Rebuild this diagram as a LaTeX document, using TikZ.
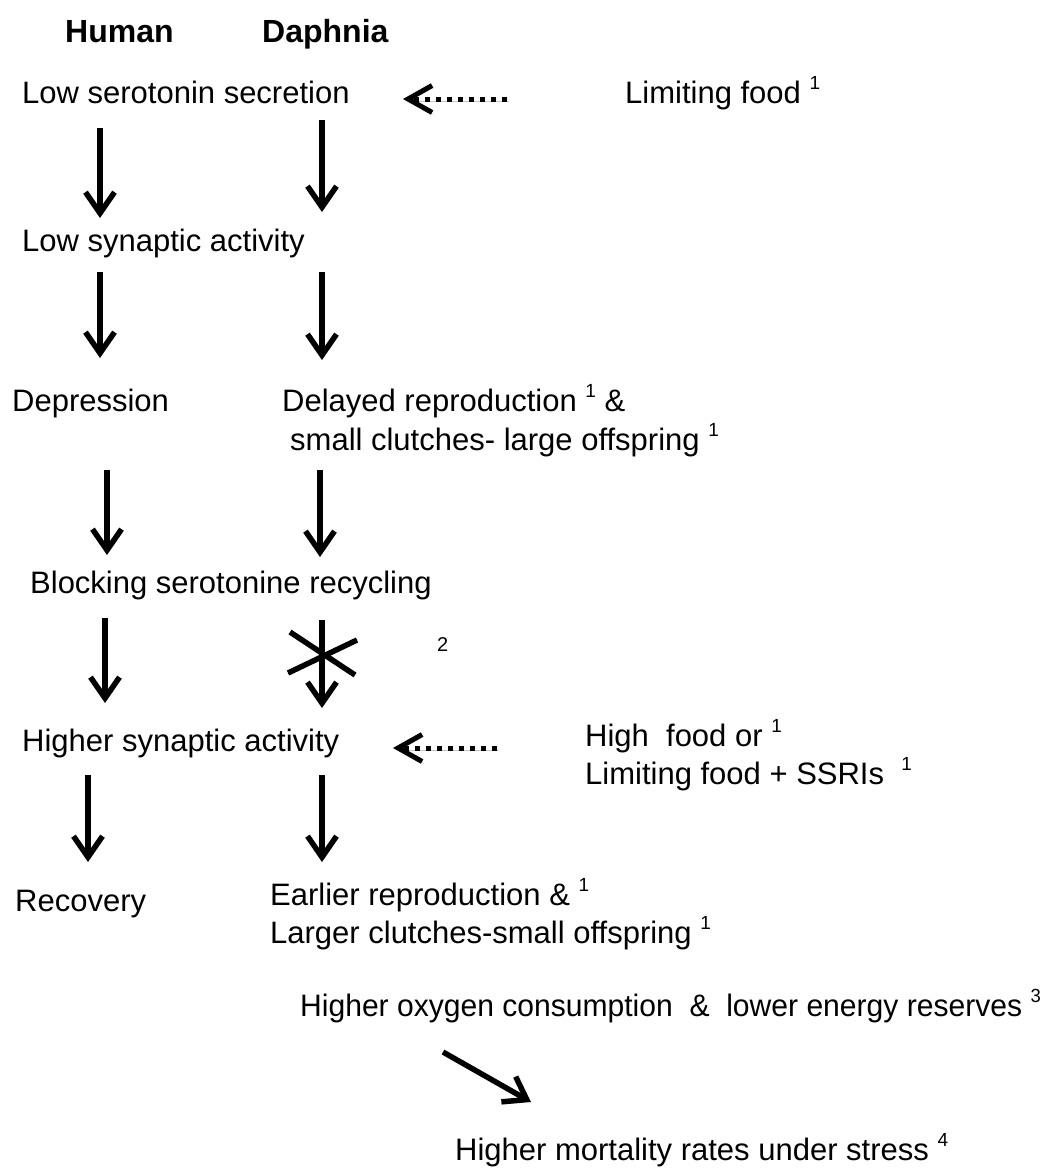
\documentclass[tikz,border=0pt]{standalone}
\usepackage{fontspec}
\setmainfont{Liberation Sans}
\usetikzlibrary{arrows.meta}
\newcommand{\sref}[1]{\raisebox{0.42em}{\fontsize{19}{19}\selectfont #1}}
\newcommand{\xsq}[2]{\scalebox{#1}[1]{#2}}
\begin{document}
\begin{tikzpicture}[x=1pt,y=-1pt,
  lbl/.style={anchor=base west, inner sep=0pt, font=\fontsize{31}{37}\selectfont},
  hdr/.style={anchor=base west, inner sep=0pt, font=\fontsize{32}{38}\selectfont\bfseries},
  shade/.style={preaction={draw=black!22, transform canvas={shift={(1.5pt,-2pt)}}}},
  flow/.style={shade, line width=5.5pt, -{Straight Barb[length=21pt,width=29pt]}},
  feed/.style={shade, line width=5pt, dash pattern=on 5pt off 6pt, -{Straight Barb[length=24pt,width=27pt]}},
  cross/.style={line width=5.5pt}]
\useasboundingbox (0,0) rectangle (1053,1171);

% headers
\node[hdr] (human) at (65,42) {Human};
\node[hdr] (daph) at (262,42) {Daphnia};

% rows
\node[lbl] (r1) at (22,103) {Low serotonin secretion};
\node[lbl] (lim1) at (625,103) {Limiting food \sref{1}};
\node[lbl] (r2) at (22,251) {Low synaptic activity};
\node[lbl] (dep) at (12,411) {Depression};
\node[lbl] (del) at (282,411) {Delayed reproduction \sref{1} \&};
\node[lbl] (small) at (290,450) {small clutches- large offspring \sref{1}};
\node[lbl] (r4) at (30,593) {Blocking serotonine recycling};
\node[lbl, font=\fontsize{20}{24}\selectfont] (two) at (437,651) {2};
\node[lbl] (r5) at (22,751) {Higher synaptic activity};
\node[lbl] (high) at (585,746) {High\ \ food or \sref{1}};
\node[lbl] (lim2) at (585,784) {Limiting food + SSRIs \ \sref{1}};
\node[lbl] (rec) at (15,911) {Recovery};
\node[lbl] (earl) at (270,905) {Earlier reproduction \& \sref{1}};
\node[lbl] (larg) at (270,943) {Larger clutches-small offspring \sref{1}};
\node[lbl] (oxy) at (300,1016) {\xsq{0.97}{Higher oxygen consumption \ \& \ lower energy reserves \sref{3}}};
\node[lbl] (mort) at (455,1160) {Higher mortality rates under stress \sref{4}};

% arrow end points
\coordinate (a1s) at (100,128); \coordinate (a1e) at (100,218);
\coordinate (a2s) at (100,272); \coordinate (a2e) at (100,358);
\coordinate (a3s) at (107,470); \coordinate (a3e) at (107,555);
\coordinate (a4s) at (105,618); \coordinate (a4e) at (105,703);
\coordinate (a5s) at (88,775);  \coordinate (a5e) at (88,862);
\coordinate (b1s) at (322,120); \coordinate (b1e) at (322,212);
\coordinate (b2s) at (322,272); \coordinate (b2e) at (322,360);
\coordinate (b3s) at (320,470); \coordinate (b3e) at (320,557);
\coordinate (b4s) at (322,620); \coordinate (b4e) at (322,708);
\coordinate (b5s) at (322,775); \coordinate (b5e) at (322,862);
\coordinate (d1s) at (507,99);  \coordinate (d1e) at (403,99);
\coordinate (d2s) at (497,748); \coordinate (d2e) at (393,748);
\coordinate (gs) at (443,1052); \coordinate (ge) at (531,1102);
\coordinate (x1a) at (290,632); \coordinate (x1b) at (355,675);
\coordinate (x2a) at (288,673); \coordinate (x2b) at (357,640);

\foreach \p in {a1,a2,a3,a4,a5,b1,b2,b3,b4,b5}
  \draw[flow] (\p s) -- (\p e);
\draw[feed] (d1s) -- (d1e);
\draw[feed] (d2s) -- (d2e);
\draw[cross] (x1a) -- (x1b);
\draw[cross] (x2a) -- (x2b);
\draw[flow] (gs) -- (ge);
\end{tikzpicture}
\end{document}
